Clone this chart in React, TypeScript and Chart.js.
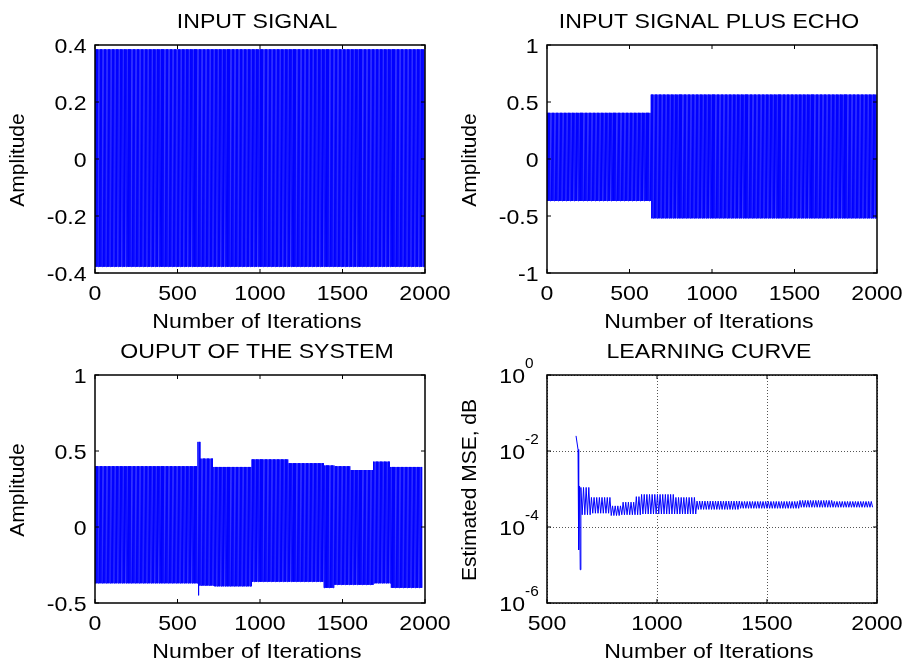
import { useEffect, useRef } from 'react';
import { Chart, registerables } from 'chart.js';

Chart.register(...registerables);

// ---------- data ----------
const X_TICKS_SIGNAL = [0, 500, 1000, 1500, 2000];
const X_TICKS_MSE = [500, 1000, 1500, 2000];

const Y_TICKS_INPUT = [-0.4, -0.2, 0, 0.2, 0.4];
const Y_LABELS_INPUT = ['-0.4', '-0.2', '0', '0.2', '0.4'];
const Y_TICKS_ECHO = [-1, -0.5, 0, 0.5, 1];
const Y_LABELS_ECHO = ['-1', '-0.5', '0', '0.5', '1'];
const Y_TICKS_OUTPUT = [-0.5, 0, 0.5, 1];
const Y_LABELS_OUTPUT = ['-0.5', '0', '0.5', '1'];
const Y_TICKS_MSE = [1e-6, 1e-4, 1e-2, 1];
const Y_EXP_MSE = ['-6', '-4', '-2', '0'];

// envelope of each oscillating signal: segment start iteration, upper and lower peaks
const INPUT_SEG_START = [0];
const INPUT_UPPER = [0.385];
const INPUT_LOWER = [-0.378];
const INPUT_END = 2000;

const ECHO_SEG_START = [0, 630];
const ECHO_UPPER = [0.405, 0.565];
const ECHO_LOWER = [-0.368, -0.52];
const ECHO_END = 2000;

const OUTPUT_SEG_START = [0, 624, 636, 720, 950, 1170, 1385, 1450, 1545, 1685, 1790];
const OUTPUT_UPPER = [0.4, 0.56, 0.45, 0.395, 0.445, 0.42, 0.405, 0.4, 0.375, 0.43, 0.395];
const OUTPUT_LOWER = [-0.37, -0.45, -0.385, -0.39, -0.36, -0.36, -0.4, -0.38, -0.38, -0.37, -0.4];
const OUTPUT_END = 1980;

const MSE_TRANSIENT_X = [632, 641, 644, 648, 651];
const MSE_TRANSIENT_Y = [0.025, 0.011, 2.5e-5, 1.2e-3, 7.5e-6];
const MSE_SEG_START = [654, 700, 790, 840, 900, 930, 1075, 1180, 1380, 1650, 1800];
const MSE_UPPER = [1.1e-3, 6e-4, 3.6e-4, 4.5e-4, 6.3e-4, 7.2e-4, 6e-4, 4.8e-4, 4.7e-4, 5e-4, 4.7e-4];
const MSE_LOWER = [2.1e-4, 2.3e-4, 2.0e-4, 2.1e-4, 2.1e-4, 2.2e-4, 2.2e-4, 2.9e-4, 3.1e-4, 3.3e-4, 3.3e-4];
const MSE_END = 1980;

const SIGNAL_STEP = 4; // iterations between successive peaks drawn
const MSE_STEP = 6;

// ---------- helpers ----------
function peaks(starts: number[], upper: number[], lower: number[], end: number, step: number) {
  const pts: { x: number; y: number }[] = [];
  let k = 0;
  for (let x = starts[0]; x <= end; x += step, k++) {
    let seg = 0;
    while (seg + 1 < starts.length && x >= starts[seg + 1]) seg++;
    pts.push({ x, y: k % 2 === 0 ? upper[seg] : lower[seg] });
  }
  return pts;
}

const FONT = '"Liberation Sans", Arial, Helvetica, sans-serif';
const SX = 1.1;

function hText(ctx: CanvasRenderingContext2D, text: string, x: number, y: number, align: string, size: number) {
  ctx.save();
  ctx.font = `${size}px ${FONT}`;
  ctx.textAlign = 'left';
  ctx.textBaseline = 'alphabetic';
  const w = ctx.measureText(text).width * SX;
  const left = align === 'center' ? x - w / 2 : align === 'right' ? x - w : x;
  ctx.translate(left, y);
  ctx.scale(SX, 1);
  ctx.fillStyle = '#000';
  ctx.fillText(text, 0, 0);
  ctx.restore();
  return w;
}

type Panel = {
  title: string;
  xTitle: string;
  yTitle: string;
  xTicks: number[];
  yTicks: number[];
  yLabels?: string[];
  yExp?: string[];
  log: boolean;
  xMin: number;
  xMax: number;
  yMin: number;
  yMax: number;
  points: { x: number; y: number }[];
};

function framePlugin(p: Panel) {
  return {
    id: 'frame',
    beforeDatasetsDraw(chart: any) {
      if (!p.log) return;
      const { ctx, chartArea: a } = chart;
      const xs = chart.scales.x;
      const ys = chart.scales.y;
      ctx.save();
      ctx.strokeStyle = '#555';
      ctx.lineWidth = 1;
      ctx.setLineDash([1, 2]);
      p.xTicks.forEach((v) => {
        const px = Math.round(xs.getPixelForValue(v)) + 0.5;
        ctx.beginPath();
        ctx.moveTo(px, a.top);
        ctx.lineTo(px, a.bottom);
        ctx.stroke();
      });
      p.yTicks.forEach((v) => {
        const py = Math.round(ys.getPixelForValue(v)) + 0.5;
        ctx.beginPath();
        ctx.moveTo(a.left, py);
        ctx.lineTo(a.right, py);
        ctx.stroke();
      });
      ctx.restore();
    },
    afterDraw(chart: any) {
      const { ctx, chartArea: a } = chart;
      const xs = chart.scales.x;
      const ys = chart.scales.y;
      ctx.save();
      // box
      ctx.strokeStyle = '#000';
      ctx.lineWidth = 1.5;
      ctx.strokeRect(a.left, a.top, a.right - a.left, a.bottom - a.top);
      // inward ticks
      ctx.lineWidth = 1;
      const TL = 4;
      p.xTicks.forEach((v) => {
        const px = xs.getPixelForValue(v);
        ctx.beginPath();
        ctx.moveTo(px, a.bottom);
        ctx.lineTo(px, a.bottom - TL);
        ctx.moveTo(px, a.top);
        ctx.lineTo(px, a.top + TL);
        ctx.stroke();
      });
      p.yTicks.forEach((v) => {
        const py = ys.getPixelForValue(v);
        ctx.beginPath();
        ctx.moveTo(a.left, py);
        ctx.lineTo(a.left + TL, py);
        ctx.moveTo(a.right, py);
        ctx.lineTo(a.right - TL, py);
        ctx.stroke();
      });
      ctx.restore();

      const cx = (a.left + a.right) / 2 - 3;
      // title
      hText(ctx, p.title, cx, a.top - 17.5, 'center', 21);
      // x tick labels
      p.xTicks.forEach((v) => {
        hText(ctx, String(v), xs.getPixelForValue(v), a.bottom + 27, 'center', 21);
      });
      // x title
      hText(ctx, p.xTitle, cx, a.bottom + 55, 'center', 21);
      // y tick labels
      p.yTicks.forEach((v, i) => {
        const py = ys.getPixelForValue(v);
        if (p.yExp) {
          const rx = a.left - 22;
          hText(ctx, '10', rx, py + 7.5, 'right', 21);
          hText(ctx, p.yExp[i], rx, py - 7.5, 'left', 14);
        } else if (p.yLabels) {
          hText(ctx, p.yLabels[i], a.left - 8.5, py + 7.5, 'right', 21);
        }
      });
      // y title (rotated)
      ctx.save();
      ctx.font = `21px ${FONT}`;
      ctx.fillStyle = '#000';
      ctx.textAlign = 'center';
      ctx.textBaseline = 'alphabetic';
      ctx.translate(a.left - 71, (a.top + a.bottom) / 2 + 1);
      ctx.rotate(-Math.PI / 2);
      ctx.fillText(p.yTitle, 0, 0);
      ctx.restore();
    },
  };
}

function makeChart(canvas: HTMLCanvasElement, p: Panel) {
  const W = canvas.width;
  const H = canvas.height;
  return new Chart(canvas, {
    type: 'line',
    data: {
      datasets: [
        {
          data: p.points,
          borderColor: '#0000ff',
          borderWidth: 1,
          pointRadius: 0,
          borderJoinStyle: 'bevel',
          tension: 0,
          fill: false,
        } as any,
      ],
    },
    options: {
      animation: false,
      responsive: false,
      devicePixelRatio: 1,
      events: [],
      layout: { padding: { left: 95, right: W - 425, top: 45, bottom: H - 273 } },
      plugins: { legend: { display: false }, tooltip: { enabled: false }, title: { display: false } },
      scales: {
        x: { type: 'linear', min: p.xMin, max: p.xMax, display: false },
        y: { type: p.log ? 'logarithmic' : 'linear', min: p.yMin, max: p.yMax, display: false },
      },
    } as any,
    plugins: [framePlugin(p)],
  });
}

const PANELS: Panel[] = [
  {
    title: 'INPUT SIGNAL',
    xTitle: 'Number of Iterations',
    yTitle: 'Amplitude',
    xTicks: X_TICKS_SIGNAL,
    yTicks: Y_TICKS_INPUT,
    yLabels: Y_LABELS_INPUT,
    log: false,
    xMin: 0,
    xMax: 2000,
    yMin: -0.4,
    yMax: 0.4,
    points: peaks(INPUT_SEG_START, INPUT_UPPER, INPUT_LOWER, INPUT_END, SIGNAL_STEP),
  },
  {
    title: 'INPUT SIGNAL PLUS ECHO',
    xTitle: 'Number of Iterations',
    yTitle: 'Amplitude',
    xTicks: X_TICKS_SIGNAL,
    yTicks: Y_TICKS_ECHO,
    yLabels: Y_LABELS_ECHO,
    log: false,
    xMin: 0,
    xMax: 2000,
    yMin: -1,
    yMax: 1,
    points: peaks(ECHO_SEG_START, ECHO_UPPER, ECHO_LOWER, ECHO_END, SIGNAL_STEP),
  },
  {
    title: 'OUPUT OF THE SYSTEM',
    xTitle: 'Number of Iterations',
    yTitle: 'Amplitude',
    xTicks: X_TICKS_SIGNAL,
    yTicks: Y_TICKS_OUTPUT,
    yLabels: Y_LABELS_OUTPUT,
    log: false,
    xMin: 0,
    xMax: 2000,
    yMin: -0.5,
    yMax: 1,
    points: peaks(OUTPUT_SEG_START, OUTPUT_UPPER, OUTPUT_LOWER, OUTPUT_END, SIGNAL_STEP),
  },
  {
    title: 'LEARNING CURVE',
    xTitle: 'Number of Iterations',
    yTitle: 'Estimated MSE, dB',
    xTicks: X_TICKS_MSE,
    yTicks: Y_TICKS_MSE,
    yExp: Y_EXP_MSE,
    log: true,
    xMin: 500,
    xMax: 2000,
    yMin: 1e-6,
    yMax: 1,
    points: [
      ...MSE_TRANSIENT_X.map((x, i) => ({ x, y: MSE_TRANSIENT_Y[i] })),
      ...peaks(MSE_SEG_START, MSE_UPPER, MSE_LOWER, MSE_END, MSE_STEP),
    ],
  },
];

const BOXES = [
  { left: 0, top: 0, width: 452, height: 330 },
  { left: 452, top: 0, width: 453, height: 330 },
  { left: 0, top: 330, width: 452, height: 332 },
  { left: 452, top: 330, width: 453, height: 332 },
];

export default function App() {
  const refs = [
    useRef<HTMLCanvasElement>(null),
    useRef<HTMLCanvasElement>(null),
    useRef<HTMLCanvasElement>(null),
    useRef<HTMLCanvasElement>(null),
  ];
  useEffect(() => {
    const charts = refs.map((r, i) => makeChart(r.current as HTMLCanvasElement, PANELS[i]));
    return () => charts.forEach((c) => c.destroy());
  }, []);
  return (
    <div style={{ position: 'fixed', left: 0, top: 0, width: 905, height: 662, background: '#fff' }}>
      {BOXES.map((b, i) => (
        <canvas
          key={i}
          ref={refs[i]}
          width={b.width}
          height={b.height}
          style={{ position: 'absolute', left: b.left, top: b.top, width: b.width, height: b.height }}
        />
      ))}
    </div>
  );
}
